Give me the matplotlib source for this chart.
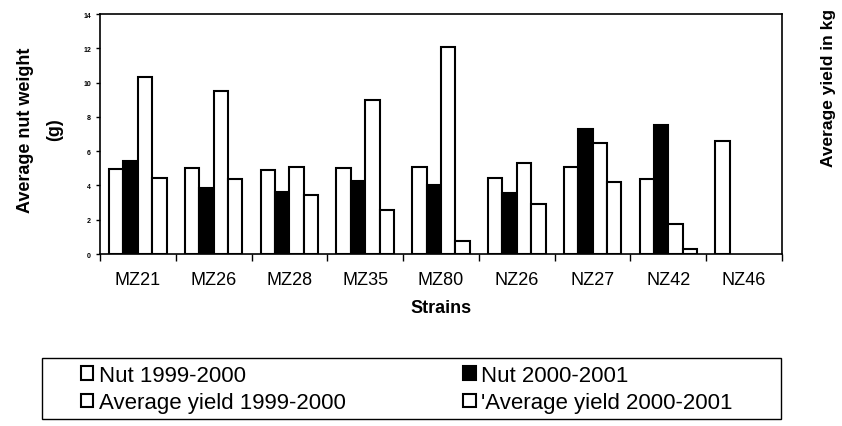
import matplotlib.pyplot as plt
import matplotlib.patches as mpatches
import numpy as np

plt.rcParams['font.family'] = ['Liberation Sans', 'DejaVu Sans']

# data
strains = ['MZ21', 'MZ26', 'MZ28', 'MZ35', 'MZ80', 'NZ26', 'NZ27', 'NZ42', 'NZ46']
nut_99 = [4.95, 5.0, 4.9, 5.0, 5.05, 4.45, 5.05, 4.35, 6.6]
nut_00 = [5.45, 3.85, 3.6, 4.25, 4.0, 3.55, 7.3, 7.55, 0]
yield_99 = [10.3, 9.5, 5.05, 9.0, 12.1, 5.3, 6.5, 1.75, 0]
yield_00 = [4.45, 4.35, 3.45, 2.55, 0.75, 2.9, 4.2, 0.3, 0]

series = [
    ('Nut 1999-2000', nut_99, 'white'),
    ('Nut 2000-2001', nut_00, 'black'),
    ('Average yield 1999-2000', yield_99, 'white'),
    ("'Average yield 2000-2001", yield_00, 'white'),
]

fig = plt.figure(figsize=(8.42, 4.27), dpi=100)
ax = fig.add_axes([100 / 842, 1 - 255 / 427, 682 / 842, 240 / 427])

x = np.arange(len(strains))
w = 0.19
bars = []
for i, (name, vals, col) in enumerate(series):
    vals = np.array(vals)
    keep = vals > 0
    b = ax.bar(x[keep] + (i - 1.5) * w, vals[keep], w, color=col, edgecolor='black',
               linewidth=1.5, label=name)
    bars.append(b)

ax.set_xlim(-0.5, len(strains) - 0.5)
ax.set_ylim(0, 14)
ax.set_yticks(range(0, 15, 2))
ax.tick_params(axis='y', labelsize=5, length=3, width=1)
for t in ax.get_yticklabels():
    t.set_fontweight('bold')

ax.set_xticks(x)
ax.set_xticklabels(strains, fontsize=13)
ax.tick_params(axis='x', length=0, pad=12)
ax.set_xticks(np.arange(-0.5, len(strains)), minor=True)
ax.tick_params(axis='x', which='minor', length=5, width=1, direction='out')

for s in ax.spines.values():
    s.set_linewidth(1.2)

ax.set_xlabel('Strains', fontsize=13, fontweight='bold', labelpad=8)
fig.text(40 / 842, 1 - 130 / 427, 'Average nut weight\n(g)', rotation=90, fontsize=13,
         fontweight='bold', ha='center', va='center', linespacing=1.9, multialignment='center')
fig.text(828 / 842, 1 - 88 / 427, 'Average yield in kg', rotation=90, fontsize=12.5,
         fontweight='bold', ha='center', va='center')

# legend: fill row by row like the original
order = [0, 2, 1, 3]
leg = fig.legend([bars[k] for k in order], [series[k][0] for k in order],
                 loc='center left', bbox_to_anchor=(81 / 842, 1 - 390 / 427),
                 ncol=2, fontsize=16, frameon=False,
                 handlelength=0.55, handleheight=0.55, handletextpad=0.25, borderpad=0,
                 labelspacing=0.3, columnspacing=5.3, borderaxespad=0)
fig.patches.append(mpatches.Rectangle((42 / 842, 1 - 420 / 427), 739 / 842, 61 / 427,
                                      transform=fig.transFigure, fill=False,
                                      edgecolor='black', linewidth=1.0))

fig.savefig('out.png', dpi=100)
